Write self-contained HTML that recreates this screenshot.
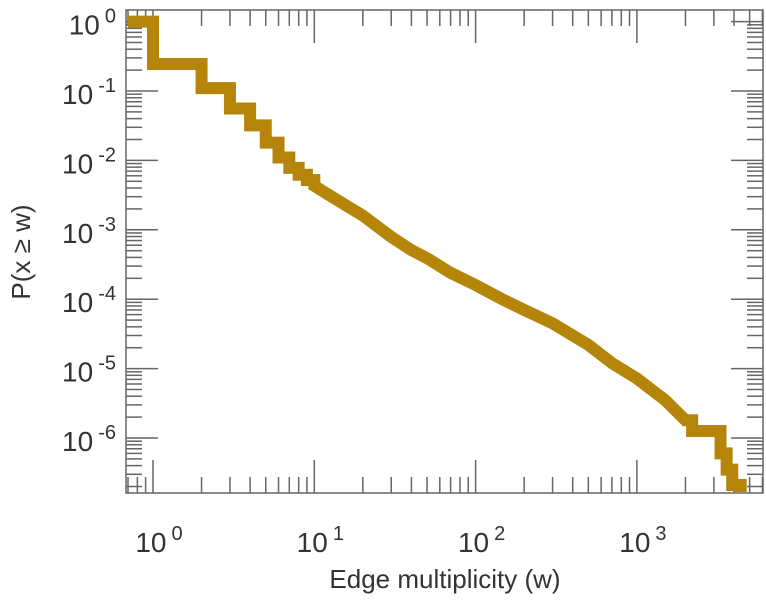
<!DOCTYPE html>
<html><head><meta charset="utf-8"><style>
body{margin:0;background:#fff}
svg text{font-family:"Liberation Sans",sans-serif;fill:#333}
</style></head><body>
<svg id="chart" width="766" height="600" xmlns="http://www.w3.org/2000/svg">
<g id="ticks"></g>
<g id="labels"></g>
<path id="series" fill="none" stroke="#b5850a" stroke-width="12" stroke-linejoin="miter"/>
<rect x="126" y="10" width="637" height="483" fill="none" stroke="#666" stroke-width="1.5"/>
<text x="445" y="588" font-size="26" text-anchor="middle">Edge multiplicity (w)</text>
<text transform="translate(30,252) rotate(-90)" font-size="26" text-anchor="middle">P(x ≥ w)</text>
</svg>
<script>
const wValues=[0.7,1,2,3,4,5,6,7,8,9,10,12,15,20,30,40,50,70,100,150,200,300,400,500,700,1000,1500,2000,2200,3100,3300,3600,3900,4400];
const pValues=[1,0.245,0.11,0.056,0.032,0.018,0.011,0.0078,0.0062,0.0052,0.0043,0.0033,0.0024,0.0016,0.00079,0.00051,0.00039,0.00024,0.00016,0.000097,0.00007,0.000045,0.00003,0.000022,0.000012,0.0000072,0.0000035,0.0000018,0.00000126,0.00000126,0.0000006,0.00000035,0.00000021,0.00000021];
const xDecades=[0,1,2,3];
const yDecades=[0,-1,-2,-3,-4,-5,-6];
const L=126,R=763,T=10,B=493;
const X0=153,XD=161.3,Y0=21.6,YD=69.4;
const xs=w=>X0+XD*Math.log10(w);
const ys=p=>Y0-YD*Math.log10(p);
const NS="http://www.w3.org/2000/svg";
const tg=document.getElementById('ticks'),lg=document.getElementById('labels');
function line(x1,y1,x2,y2){const l=document.createElementNS(NS,'line');


l.setAttribute('x1',x1);l.setAttribute('y1',y1);l.setAttribute('x2',x2);l.setAttribute('y2',y2);
l.setAttribute('stroke','#666');l.setAttribute('stroke-width','1.5');tg.appendChild(l);}
for(let d=-1;d<=3;d++)for(let m=1;m<10;m++){const x=xs(m*Math.pow(10,d));if(x<L||x>R)continue;const len=m==1?33:16;line(x,B,x,B-len);line(x,T,x,T+len);}
for(let d=-7;d<=0;d++)for(let m=1;m<10;m++){const y=ys(m*Math.pow(10,d));if(y<T||y>B)continue;const len=m==1?32:16;line(L,y,L+len,y);line(R,y,R-len,y);}
function lab(x,y,exp,anchor,name){const t=document.createElementNS(NS,'text');


t.setAttribute('x',x);t.setAttribute('y',y);t.setAttribute('font-size','28');t.setAttribute('text-anchor',anchor);
t.innerHTML='10<tspan font-size="20" dx="5" dy="-12">'+exp+'</tspan>';lg.appendChild(t);}
xDecades.forEach(d=>lab(xs(Math.pow(10,d))+6,552,d,'middle','x-tick-label'));
yDecades.forEach(d=>lab(116,ys(Math.pow(10,d))+13,d,'end','y-tick-label'));
let dstr='';
for(let i=0;i<wValues.length;i++){const x=xs(wValues[i]),y=ys(pValues[i]);
if(i==0){dstr+='M'+x+' '+y;continue;}
const w=wValues[i];
if(w<=10||w>=2200) dstr+=' L'+x+' '+ys(pValues[i-1])+' L'+x+' '+y;
else dstr+=' L'+x+' '+y;}
dstr+=' L'+(xs(wValues[wValues.length-1]))+' '+(B-1);
document.getElementById('series').setAttribute('d',dstr);
</script>
</body></html>
